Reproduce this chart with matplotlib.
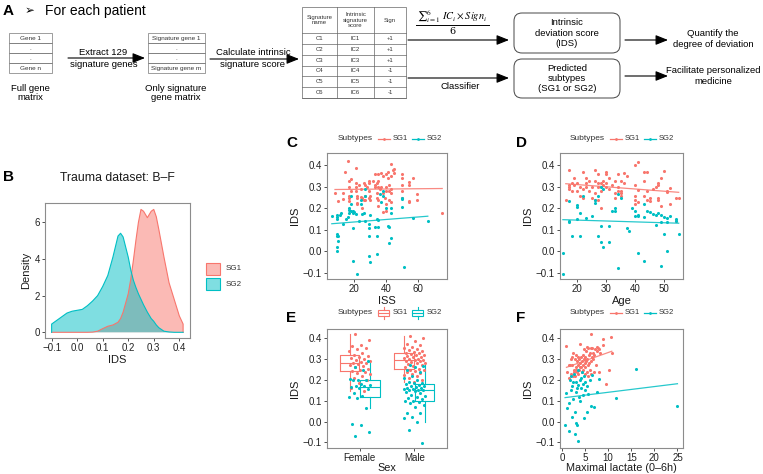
import numpy as np
import matplotlib
matplotlib.use('Agg')
import matplotlib.pyplot as plt
from matplotlib.patches import Rectangle, FancyBboxPatch
from matplotlib.ticker import FuncFormatter

plt.rcParams['font.family'] = ['Liberation Sans', 'DejaVu Sans']
plt.rcParams['mathtext.fontset'] = 'stix'

# ---------------- data ----------------
SUBTYPES = ['SG1', 'SG2']
SIG_NAMES = ['C1', 'C2', 'C3', 'C4', 'C5', 'C6']
SIG_SCORES = ['IC1', 'IC2', 'IC3', 'IC4', 'IC5', 'IC6']
SIG_SIGNS = ['+1', '+1', '+1', '-1', '-1', '-1']

# Panel B: density curves of IDS
B_IDS = [-0.10, -0.08, -0.06, -0.04, -0.02, 0.00, 0.02, 0.04, 0.06, 0.08, 0.10, 0.12, 0.14,
         0.16, 0.17, 0.18, 0.20, 0.21, 0.22, 0.23, 0.24, 0.25, 0.26, 0.275, 0.29, 0.30, 0.31,
         0.32, 0.34, 0.36, 0.38, 0.40, 0.415]
B_SG1 = [0, 0, 0, 0, 0, 0, 0, 0, 0.01, 0.06, 0.2, 0.33, 0.4, 0.55, 0.75, 1.1, 2.1, 2.9, 3.9,
         5.0, 6.0, 6.7, 6.6, 6.25, 6.6, 6.7, 6.3, 5.6, 4.1, 2.7, 1.8, 0.9, 0.45]
B_SG2 = [0.45, 0.65, 0.85, 1.05, 1.15, 1.2, 1.25, 1.45, 1.7, 2.0, 2.5, 3.1, 4.1, 5.25, 5.4,
         5.2, 4.1, 3.4, 2.85, 2.45, 2.1, 1.8, 1.5, 1.1, 0.75, 0.6, 0.4, 0.25, 0.06, 0.02, 0, 0, 0]

# Panel C: ISS vs IDS
C_SG1_ISS = [8, 10, 13, 13, 14, 16, 17, 17, 17, 18, 18, 17, 17,
             21, 21, 21, 21, 22, 22, 22, 22, 23, 24, 24, 25, 25, 26, 26, 27, 27, 27, 28, 29, 29, 29, 29, 30, 30,
             32, 33, 33, 33, 34, 34, 34, 35, 35, 35, 35, 35, 36, 37, 37, 38, 38, 38, 39, 40, 40, 40, 40, 40,
             41, 41, 42, 42, 42, 43, 43, 43, 43, 43, 44, 45, 45, 50, 50, 50, 50, 50,
             54, 54, 54, 54, 57, 59, 59, 75]
C_SG1_IDS = [0.27, 0.235, 0.27, 0.245, 0.37, 0.42, 0.26, 0.30, 0.33, 0.335, 0.28, 0.235, 0.25,
             0.39, 0.32, 0.30, 0.28, 0.26, 0.25, 0.225, 0.22, 0.31, 0.29, 0.255, 0.25, 0.20, 0.32, 0.24, 0.31, 0.26, 0.24, 0.30, 0.33, 0.32, 0.28, 0.25, 0.24, 0.26,
             0.33, 0.36, 0.30, 0.31, 0.32, 0.27, 0.25, 0.36, 0.33, 0.30, 0.24, 0.21, 0.29, 0.365, 0.30, 0.35, 0.27, 0.185, 0.25, 0.36, 0.30, 0.28, 0.22, 0.19,
             0.37, 0.34, 0.31, 0.28, 0.24, 0.405, 0.35, 0.29, 0.27, 0.23, 0.38, 0.385, 0.365, 0.36, 0.34, 0.31, 0.28, 0.25,
             0.325, 0.31, 0.235, 0.23, 0.34, 0.265, 0.24, 0.18]
C_SG2_ISS = [6, 9, 9, 9, 9, 9, 9, 9, 10, 10, 11, 12, 13, 15, 16, 17, 17, 17, 18, 18, 18, 19, 19, 19, 19,
             20, 21, 22, 23, 24, 24, 25, 26, 27, 27, 27, 29, 29, 29, 29, 30, 30, 33, 34, 34, 34, 35, 35,
             36, 37, 38, 38, 40, 41, 42, 42, 43, 43, 43, 50, 50, 50, 51, 57, 66]
C_SG2_IDS = [0.165, 0.17, 0.16, 0.15, 0.08, 0.07, 0.02, 0.0, 0.07, 0.05, 0.17, 0.18, 0.13, 0.15, 0.16, 0.18, 0.195, 0.20, 0.26, 0.22, 0.19, 0.19, 0.18, 0.11, -0.045,
             0.185, 0.175, -0.105, 0.14, 0.24, 0.22, 0.175, 0.18, 0.26, 0.29, 0.14, 0.13, 0.11, 0.07, -0.02, -0.05, 0.17, 0.115, 0.15, 0.07, -0.01, 0.145, 0.115,
             0.265, 0.23, 0.28, 0.26, 0.20, 0.12, 0.04, 0.115, 0.065, 0.18, 0.20, 0.245, 0.25, 0.205, -0.07, 0.155, 0.14]

# Panel D: Age vs IDS
D_SG1_AGE = [16, 17, 17, 17, 17, 18, 18, 19, 19, 20, 20, 21, 21, 22, 22, 22,
             23, 23, 23, 24, 24, 25, 25, 26, 26, 26, 26, 27, 27, 27, 27, 28, 28, 28, 29, 29, 30, 30, 30, 30, 31, 31,
             32, 33, 33, 33, 34, 34, 34, 35, 35, 35, 35, 36, 36, 37, 40, 40, 40, 40, 40, 41, 41, 41,
             43, 43, 43, 44, 44, 44, 45, 45, 46, 47, 48, 48, 48, 48, 49, 49, 50, 51, 51, 52, 52, 54, 55, 54]
D_SG1_IDS = [0.24, 0.38, 0.31, 0.30, 0.29, 0.28, 0.32, 0.34, 0.31, 0.32, 0.28, 0.30, 0.26, 0.37, 0.29, 0.25,
             0.34, 0.32, 0.30, 0.33, 0.28, 0.25, 0.30, 0.38, 0.33, 0.27, 0.24, 0.36, 0.32, 0.30, 0.24, 0.32, 0.28, 0.20, 0.33, 0.31, 0.32, 0.37, 0.36, 0.30, 0.34, 0.29,
             0.31, 0.33, 0.27, 0.25, 0.36, 0.30, 0.28, 0.28, 0.33, 0.27, 0.26, 0.32, 0.365, 0.35, 0.31, 0.26, 0.24, 0.22, 0.40, 0.415, 0.285, 0.23,
             0.37, 0.33, 0.26, 0.37, 0.28, 0.24, 0.25, 0.235, 0.29, 0.30, 0.32, 0.31, 0.25, 0.24, 0.34, 0.21, 0.375, 0.28, 0.275, 0.295, 0.22, 0.25, 0.25, 0.14]
D_SG2_AGE = [15, 15, 17, 17, 17, 18, 20, 20, 20, 21, 21, 22, 23, 25, 26, 26, 27, 27, 28, 28, 28, 29, 29,
             31, 31, 32, 33, 33, 34, 34, 35, 37, 38, 39, 40, 40, 41, 41, 41, 43, 43, 43, 44, 45, 46, 47, 47,
             48, 49, 49, 49, 50, 50, 51, 51, 51, 52, 54, 54, 55]
D_SG2_IDS = [-0.005, -0.105, 0.235, 0.14, 0.135, 0.07, 0.215, 0.205, 0.15, 0.07, 0.18, 0.26, 0.155, 0.165, 0.24, 0.225, 0.07, 0.26, 0.30, 0.12, 0.045, 0.29, 0.02,
             0.12, 0.045, 0.19, 0.20, 0.19, 0.265, -0.075, 0.25, 0.107, 0.095, 0.20, 0.165, 0.19, 0.165, 0.17, -0.005, 0.16, 0.22, -0.045, 0.19, 0.185, 0.175, 0.17, 0.125,
             0.18, 0.17, 0.135, -0.068, 0.08, 0.16, 0.155, 0.135, 0.0, 0.165, 0.15, 0.14, 0.08]

# Panel E: IDS by sex and subtype
SEX = ['Female', 'Male']
E_FEMALE_SG1 = [0.42, 0.39, 0.37, 0.365, 0.355, 0.35, 0.34, 0.33, 0.32, 0.315, 0.31, 0.305, 0.30, 0.295,
                0.29, 0.285, 0.28, 0.28, 0.275, 0.27, 0.265, 0.26, 0.255, 0.25, 0.245, 0.24, 0.235, 0.23,
                0.22, 0.21, 0.20, 0.185, 0.16, 0.145]
E_FEMALE_SG2 = [-0.07, -0.05, -0.015, -0.01, 0.065, 0.115, 0.12, 0.125, 0.135, 0.155, 0.16, 0.165,
                0.17, 0.17, 0.175, 0.18, 0.20, 0.20, 0.20, 0.205, 0.25, 0.26, 0.29]
E_MALE_SG1 = [0.41, 0.40, 0.385, 0.375, 0.37, 0.36, 0.355, 0.35, 0.345, 0.34, 0.335, 0.33, 0.33, 0.325,
              0.32, 0.32, 0.315, 0.31, 0.31, 0.305, 0.30, 0.30, 0.295, 0.295, 0.29, 0.29, 0.285, 0.28,
              0.28, 0.275, 0.27, 0.265, 0.26, 0.255, 0.25, 0.25, 0.245, 0.24, 0.235, 0.23, 0.225, 0.22,
              0.21, 0.20, 0.19]
E_MALE_SG2 = [0.27, 0.265, 0.26, 0.25, 0.24, 0.22, 0.21, 0.20, 0.19, 0.185, 0.185, 0.18, 0.175, 0.17,
              0.17, 0.165, 0.16, 0.16, 0.155, 0.155, 0.15, 0.15, 0.15, 0.145, 0.14, 0.135, 0.13, 0.125,
              0.12, 0.115, 0.11, 0.10, 0.10, 0.095, 0.09, 0.08, 0.07, 0.04, 0.04, 0.02, 0.015, 0.0,
              -0.04, -0.105]

# Panel F: maximal lactate vs IDS
F_SG1_LAC = [1.0, 1.2, 1.5, 1.6, 1.8, 2.0, 2.0, 2.2, 2.3, 2.4, 2.5, 2.6, 2.7, 2.8, 2.9, 3.0, 3.0, 3.1,
             3.2, 3.3, 3.4, 3.5, 3.6, 3.7, 3.8, 3.9, 4.0, 4.0, 4.1, 4.2, 4.3, 4.4, 4.5, 4.5, 4.6, 4.7,
             4.8, 4.9, 5.0, 5.0, 5.1, 5.2, 5.3, 5.4, 5.5, 5.5, 5.6, 5.7, 5.7, 5.8, 5.9, 6.0, 6.1, 6.2,
             6.3, 6.4, 6.4, 6.5, 6.6, 6.7, 6.8, 6.9, 7.0, 7.2, 7.3, 7.5, 7.6, 7.8, 8.0, 8.1, 8.3, 9.0,
             9.0, 9.6, 10.1, 10.6, 10.8]
F_SG1_IDS = [0.365, 0.24, 0.27, 0.21, 0.27, 0.30, 0.23, 0.31, 0.27, 0.22, 0.33, 0.25, 0.24, 0.22, 0.30, 0.25, 0.26, 0.32,
             0.29, 0.24, 0.31, 0.27, 0.23, 0.25, 0.30, 0.28, 0.375, 0.26, 0.26, 0.31, 0.24, 0.29, 0.32, 0.27, 0.25, 0.30,
             0.35, 0.23, 0.28, 0.31, 0.26, 0.34, 0.29, 0.24, 0.36, 0.30, 0.27, 0.355, 0.22, 0.32, 0.28, 0.25, 0.33, 0.42,
             0.29, 0.227, 0.355, 0.31, 0.355, 0.30, 0.33, 0.24, 0.32, 0.35, 0.27, 0.36, 0.34, 0.355, 0.35, 0.24, 0.33, 0.395,
             0.37, 0.18, 0.25, 0.405, 0.33]
F_SG2_LAC = [0.7, 1.0, 1.2, 1.5, 1.5, 1.8, 2.0, 2.0, 2.2, 2.3, 2.5, 2.5, 2.7, 2.9, 2.9, 3.0, 3.0, 3.1, 3.3,
             3.3, 3.5, 3.5, 3.6, 3.7, 3.9, 4.0, 4.1, 4.2, 4.3, 4.5, 4.6, 4.7, 4.8, 5.0, 5.1, 5.4, 5.5,
             5.7, 6.0, 6.2, 6.6, 6.9, 7.6, 8.0, 11.8, 16.0, 25.0]
F_SG2_IDS = [-0.015, 0.135, 0.065, 0.09, -0.045, 0.20, 0.22, 0.15, 0.17, 0.02, 0.11, 0.19, 0.23, 0.045, -0.06, 0.19, -0.005, 0.14, -0.018,
             0.16, -0.092, 0.25, 0.175, 0.12, 0.20, 0.10, 0.21, 0.16, 0.24, 0.13, 0.18, 0.015, 0.22, 0.15, 0.19, 0.046, 0.17,
             0.133, 0.20, 0.073, 0.222, 0.07, 0.144, 0.207, 0.112, 0.254, 0.076]

# ---------------- figure ----------------
W, H = 763, 474
fig = plt.figure(figsize=(W / 100, H / 100), dpi=100)
RED = '#F8766D'
CYAN = '#00BFC4'
TXT = '#1a1a1a'


def px_axes(l, t, r, b):
    return fig.add_axes([l / W, 1 - b / H, (r - l) / W, (b - t) / H])


ov = px_axes(0, 0, W, H)
ov.set_xlim(0, W)
ov.set_ylim(H, 0)
ov.axis('off')


def arrow(x0, x1, y):
    ov.annotate('', xy=(x1, y), xytext=(x0, y),
                arrowprops=dict(arrowstyle='-|>,head_length=0.75,head_width=0.3',
                                color='black', lw=0.8, shrinkA=0, shrinkB=0))


# ---- Panel A ----
ov.text(3, 11, 'A', fontsize=11, fontweight='bold', va='center', ha='left')
ov.text(25, 11, '\u27a2', fontsize=8.5, va='center', ha='left', family=['DejaVu Sans'])
ov.text(45, 11, 'For each patient', fontsize=10, va='center', ha='left')


def gene_box(x0, x1, labels):
    y0, y1 = 33, 73
    rh = (y1 - y0) / len(labels)
    for i, lab in enumerate(labels):
        ov.add_patch(Rectangle((x0, y0 + i * rh), x1 - x0, rh, fill=False, ec='#777777', lw=0.5))
        ov.text((x0 + x1) / 2, y0 + (i + 0.5) * rh, lab, fontsize=4.6, ha='center', va='center', color='#333333')


gene_box(9, 52, ['Gene 1', '.', '.', 'Gene n'])
gene_box(148, 205, ['Signature gene 1', '.', '.', 'Signature gene m'])
ov.text(30, 93, 'Full gene\nmatrix', fontsize=6.8, ha='center', va='center', linespacing=1.1)
ov.text(176, 93, 'Only signature\ngene matrix', fontsize=6.8, ha='center', va='center', linespacing=1.1)
arrow(68, 145, 58)
ov.text(103, 52, 'Extract 129', fontsize=6.8, ha='center', va='center')
ov.text(104, 64, 'signature genes', fontsize=6.8, ha='center', va='center')
arrow(210, 299, 59)
ov.text(253, 52, 'Calculate intrinsic', fontsize=6.8, ha='center', va='center')
ov.text(253, 64, 'signature score', fontsize=6.8, ha='center', va='center')

# table
tx = [302, 337, 374, 406]
ty0, ty1, tb = 7, 33, 98
ov.add_patch(Rectangle((tx[0], ty0), tx[3] - tx[0], tb - ty0, fill=False, ec='#666666', lw=0.5))
for x in tx[1:3]:
    ov.plot([x, x], [ty0, tb], color='#666666', lw=0.5)
rh = (tb - ty1) / len(SIG_NAMES)
for i in range(len(SIG_NAMES) + 1):
    ov.plot([tx[0], tx[3]], [ty1 + i * rh] * 2, color='#666666', lw=0.5)
hdrs = ['Signature\nname', 'Intrinsic\nsignature\nscore', 'Sign']
for j, h in enumerate(hdrs):
    ov.text((tx[j] + tx[j + 1]) / 2, (ty0 + ty1) / 2, h, fontsize=4.3, ha='center', va='center',
            color='#333333', linespacing=1.1)
for i in range(len(SIG_NAMES)):
    yc = ty1 + (i + 0.5) * rh
    for j, col in enumerate([SIG_NAMES, SIG_SCORES, SIG_SIGNS]):
        ov.text((tx[j] + tx[j + 1]) / 2, yc, col[i], fontsize=4.3, ha='center', va='center', color='#333333')

# formula
ov.text(452, 17, r'${\sum}_{i=1}^{6}\ IC_i \times Sign_i$', fontsize=7.5, ha='center', va='center')
ov.plot([416, 489], [25, 25], color='black', lw=0.7)
ov.text(452, 31, '6', fontsize=7, ha='center', va='center', family=['DejaVu Serif'])
arrow(408, 509, 40)
arrow(408, 509, 78)
ov.text(460, 86, 'Classifier', fontsize=6.8, ha='center', va='center')

for (y0, y1, txt) in [(13, 53, 'Intrinsic\ndeviation score\n(IDS)'),
                      (59, 98, 'Predicted\nsubtypes\n(SG1 or SG2)')]:
    ov.add_patch(FancyBboxPatch((514 + 8, y0 + 8), 106 - 16, (y1 - y0) - 16,
                                boxstyle='round,pad=8', fc='white', ec='#444444', lw=0.7))
    ov.text(567, (y0 + y1) / 2, txt, fontsize=6.8, ha='center', va='center', linespacing=1.15)
arrow(625, 668, 40)
arrow(625, 668, 76)
ov.text(713, 39, 'Quantify the\ndegree of deviation', fontsize=6.8, ha='center', va='center', linespacing=1.15)
ov.text(713, 76, 'Facilitate personalized\nmedicine', fontsize=6.8, ha='center', va='center', linespacing=1.15)

# ---- panel letters ----
for lab, x, y in [('B', 3, 177), ('C', 286, 143), ('D', 516, 143), ('E', 286, 318), ('F', 516, 318)]:
    ov.text(x, y, lab, fontsize=11, fontweight='bold', ha='left', va='center')


def fmt1(v, pos=None):
    return f'{v:.1f}'.replace('-', '\u2212')


def style(ax):
    for s in ax.spines.values():
        s.set_color('#8c8c8c')
        s.set_linewidth(0.8)
    ax.tick_params(length=2.5, width=0.6, color='#333333', labelsize=7, labelcolor='#222222', pad=1.2)


def ids_axis(ax, lo, hi):
    ax.set_ylim(lo, hi)
    ax.set_yticks([-0.1, 0.0, 0.1, 0.2, 0.3, 0.4])
    ax.yaxis.set_major_formatter(FuncFormatter(fmt1))
    ax.set_ylabel('IDS', fontsize=8, labelpad=2, color=TXT)


# ---- Panel B ----
axB = px_axes(45, 203, 190, 338)
bx = np.array(B_IDS)
for vals, col in [(B_SG1, RED), (B_SG2, CYAN)]:
    xs = np.concatenate([[bx[0]], bx, [bx[-1]]])
    ys = np.concatenate([[0], vals, [0]])
    axB.fill(xs, ys, facecolor=col, alpha=0.5, lw=0)
    axB.plot(xs, ys, color=col, lw=0.8)
axB.set_xlim(-0.126, 0.442)
axB.set_ylim(-0.31, 7.05)
axB.set_xticks([-0.1, 0.0, 0.1, 0.2, 0.3, 0.4])
axB.xaxis.set_major_formatter(FuncFormatter(fmt1))
axB.set_yticks([0, 2, 4, 6])
axB.set_xlabel('IDS', fontsize=8, labelpad=1.5, color=TXT)
axB.set_ylabel('Density', fontsize=8, labelpad=2, color=TXT)
style(axB)
ov.text(117, 178, 'Trauma dataset: B\u2013F', fontsize=8.8, ha='center', va='center', color=TXT)
for i, (lab, col) in enumerate(zip(SUBTYPES, [RED, CYAN])):
    yy = 263 + i * 15
    ov.add_patch(Rectangle((206, yy), 14, 12, facecolor=col, alpha=0.5, lw=0))
    ov.add_patch(Rectangle((206, yy), 14, 12, fill=False, ec=col, lw=0.8))
    ov.text(226, yy + 6, lab, fontsize=5.8, ha='left', va='center', color='#333333')


def line_legend(x0, y):
    ov.text(x0, y, 'Subtypes', fontsize=6, ha='left', va='center', color='#333333')
    for k, (lab, col) in enumerate(zip(SUBTYPES, [RED, CYAN])):
        kx = x0 + 40 + k * 34
        ov.plot([kx, kx + 12], [y, y], color=col, lw=0.9)
        ov.scatter([kx + 6], [y], s=4, color=col, lw=0)
        ov.text(kx + 15, y, lab, fontsize=5.5, ha='left', va='center', color='#333333')


def scatter_panel(ax, x1, y1, x2, y2):
    for xs, ys, col in [(x1, y1, RED), (x2, y2, CYAN)]:
        xs = np.asarray(xs, float)
        ys = np.asarray(ys, float)
        ax.scatter(xs, ys, s=5, color=col, lw=0, zorder=3)
        k, b = np.polyfit(xs, ys, 1)
        xx = np.array([xs.min(), xs.max()])
        ax.plot(xx, k * xx + b, color=col, lw=0.9, alpha=0.85, zorder=2)


# ---- Panel C ----
axC = px_axes(327, 153, 447, 279)
scatter_panel(axC, C_SG1_ISS, C_SG1_IDS, C_SG2_ISS, C_SG2_IDS)
axC.set_xlim(3, 78)
axC.set_xticks([20, 40, 60])
ids_axis(axC, -0.128, 0.458)
axC.set_xlabel('ISS', fontsize=8, labelpad=1, color=TXT)
style(axC)
line_legend(338, 139)

# ---- Panel D ----
axD = px_axes(560, 153, 683, 279)
scatter_panel(axD, D_SG1_AGE, D_SG1_IDS, D_SG2_AGE, D_SG2_IDS)
axD.set_xlim(14, 56.5)
axD.set_xticks([20, 30, 40, 50])
ids_axis(axD, -0.128, 0.458)
axD.set_xlabel('Age', fontsize=8, labelpad=1, color=TXT)
style(axD)
line_legend(570, 139)

# ---- Panel E ----
axE = px_axes(327, 329, 447, 448)
groups = [(E_FEMALE_SG1, 1 - 0.1875, RED), (E_FEMALE_SG2, 1 + 0.1875, CYAN),
          (E_MALE_SG1, 2 - 0.1875, RED), (E_MALE_SG2, 2 + 0.1875, CYAN)]
for vals, pos, col in groups:
    bp = axE.boxplot([vals], positions=[pos], widths=0.36, showfliers=False, showcaps=False,
                     whis=1.5, manage_ticks=False)
    for key in ['boxes', 'whiskers', 'medians']:
        for art in bp[key]:
            art.set_color(col)
            art.set_linewidth(0.8)
for vals, pos, col in groups:
    cat = round(pos)
    n = len(vals)
    jit = ((np.arange(n) * 0.6180339 + 0.3) % 1.0 - 0.5) * 0.4
    axE.scatter(cat + jit, vals, s=5, color=col, lw=0, zorder=3)
axE.set_xlim(0.4, 2.6)
axE.set_xticks([1, 2])
axE.set_xticklabels(SEX)
ids_axis(axE, -0.127, 0.445)
axE.set_xlabel('Sex', fontsize=7.8, labelpad=0, color=TXT)
style(axE)
ov.text(338, 313, 'Subtypes', fontsize=6, ha='left', va='center', color='#333333')
for k, (lab, col) in enumerate(zip(SUBTYPES, [RED, CYAN])):
    kx = 378 + k * 34
    ov.add_patch(Rectangle((kx, 310), 11, 6, fill=False, ec=col, lw=0.8))
    ov.plot([kx, kx + 11], [313, 313], color=col, lw=0.8)
    ov.plot([kx + 5.5, kx + 5.5], [307, 310], color=col, lw=0.8)
    ov.plot([kx + 5.5, kx + 5.5], [316, 319], color=col, lw=0.8)
    ov.text(kx + 15, 313, lab, fontsize=5.5, ha='left', va='center', color='#333333')

# ---- Panel F ----
axF = px_axes(560, 329, 683, 448)
scatter_panel(axF, F_SG1_LAC, F_SG1_IDS, F_SG2_LAC, F_SG2_IDS)
axF.set_xlim(-0.4, 26.2)
axF.set_xticks([0, 5, 10, 15, 20, 25])
ids_axis(axF, -0.127, 0.445)
axF.set_xlabel('Maximal lactate (0\u20136h)', fontsize=7.8, labelpad=0, color=TXT)
style(axF)
line_legend(570, 313)

fig.savefig('out.png', dpi=100)
